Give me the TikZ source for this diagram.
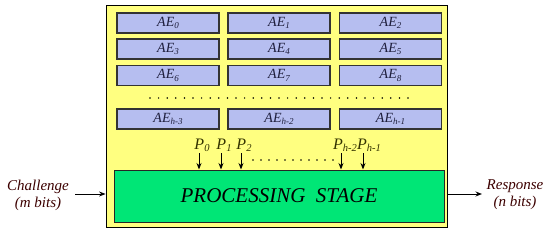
\documentclass[tikz,border=0pt]{standalone}
\usepackage{fontspec}
\setmainfont{Liberation Serif}
\usetikzlibrary{arrows.meta}
\definecolor{outery}{RGB}{255,255,128}
\definecolor{aeblue}{RGB}{182,190,240}
\definecolor{aetext}{RGB}{30,30,60}
\definecolor{procg}{RGB}{0,230,118}
\definecolor{ptext}{RGB}{51,51,0}
\definecolor{ctext}{RGB}{60,0,0}
\newcommand\lsub[1]{\raisebox{-0.35ex}{\fontsize{9}{10}\selectfont #1}}
\newcommand\psub[1]{\raisebox{-0.35ex}{\fontsize{10.5}{11}\selectfont #1}}
\begin{document}
\begin{tikzpicture}[x=1pt,y=-1pt,
  aebox/.style={draw=black!80,line width=1.1pt,fill=aeblue,minimum width=102pt,minimum height=20pt,inner sep=0pt,text=aetext,font=\fontsize{14}{16}\selectfont\itshape},
  plabel/.style={anchor=south,inner sep=0pt,text=ptext,font=\fontsize{16}{18}\selectfont\itshape},
  arr/.style={-{Stealth[length=6.5pt,width=5pt]},line width=1pt},
  side/.style={align=center,text=ctext,font=\fontsize{15}{17}\selectfont\itshape},
  dotrow/.style={line width=1.7pt,line cap=round,dash pattern=on 0pt off 8.6pt}]
\useasboundingbox (0,0) rectangle (550,233);
\node[draw=black,line width=0.8pt,fill=outery,minimum width=341pt,minimum height=222pt,inner sep=0pt] (outer) at (276.5,116.5) {};
% AE boxes
\node[aebox] (ae0) at (168,23) {AE\lsub{0}};
\node[aebox] (ae1) at (279,23) {AE\lsub{1}};
\node[aebox] (ae2) at (390.5,23) {AE\lsub{2}};
\node[aebox] (ae3) at (168,49) {AE\lsub{3}};
\node[aebox] (ae4) at (279,49) {AE\lsub{4}};
\node[aebox] (ae5) at (390.5,49) {AE\lsub{5}};
\node[aebox] (ae6) at (168,75.5) {AE\lsub{6}};
\node[aebox] (ae7) at (279,75.5) {AE\lsub{7}};
\node[aebox] (ae8) at (390.5,75.5) {AE\lsub{8}};
\node[aebox] (aeh3) at (168,119) {AE\lsub{h-3}};
\node[aebox] (aeh2) at (279,119) {AE\lsub{h-2}};
\node[aebox] (aeh1) at (390.5,119) {AE\lsub{h-1}};
\coordinate (d1) at (150,98);
\coordinate (d2) at (412,98);
\draw[dotrow] (d1) -- (d2);
% processing stage
\node[draw=black!85,line width=1pt,fill=procg,minimum width=330pt,minimum height=52pt,inner sep=0pt,font=\fontsize{21}{23}\selectfont\itshape] (proc) at (279,196) {PROCESSING\ \ STAGE};
% P arrows
\coordinate (a0) at (199,153);
\coordinate (a1) at (221,153);
\coordinate (a2) at (241,153);
\coordinate (a3) at (341,153);
\coordinate (a4) at (363,153);
\node[plabel] (p0) at ([xshift=3pt,yshift=1pt]a0) {P\psub{0}};
\node[plabel] (p1) at ([xshift=3pt,yshift=1pt]a1) {P\psub{1}};
\node[plabel] (p2) at ([xshift=3pt,yshift=1pt]a2) {P\psub{2}};
\node[plabel] (p3) at ([xshift=4pt,yshift=1pt]a3) {P\psub{h-2}};
\node[plabel] (p4) at ([xshift=6pt,yshift=1pt]a4) {P\psub{h-1}};
\foreach \i in {0,...,4} \draw[arr] (a\i) -- (a\i |- proc.north);
\coordinate (e1) at (253,160);
\coordinate (e2) at (334,160);
\draw[dotrow,dash pattern=on 0pt off 8pt] (e1) -- (e2);
% challenge / response
\node[side] (chal) at (38,195) {Challenge\\(m bits)};
\node[side] (resp) at (515,195) {Response\\(n bits)};
\coordinate (cin) at (75,194);
\coordinate (rout) at (482,194);
\draw[arr] (cin) -- (cin -| outer.west);
\draw[arr] (rout -| outer.east) -- (rout);
\end{tikzpicture}
\end{document}
